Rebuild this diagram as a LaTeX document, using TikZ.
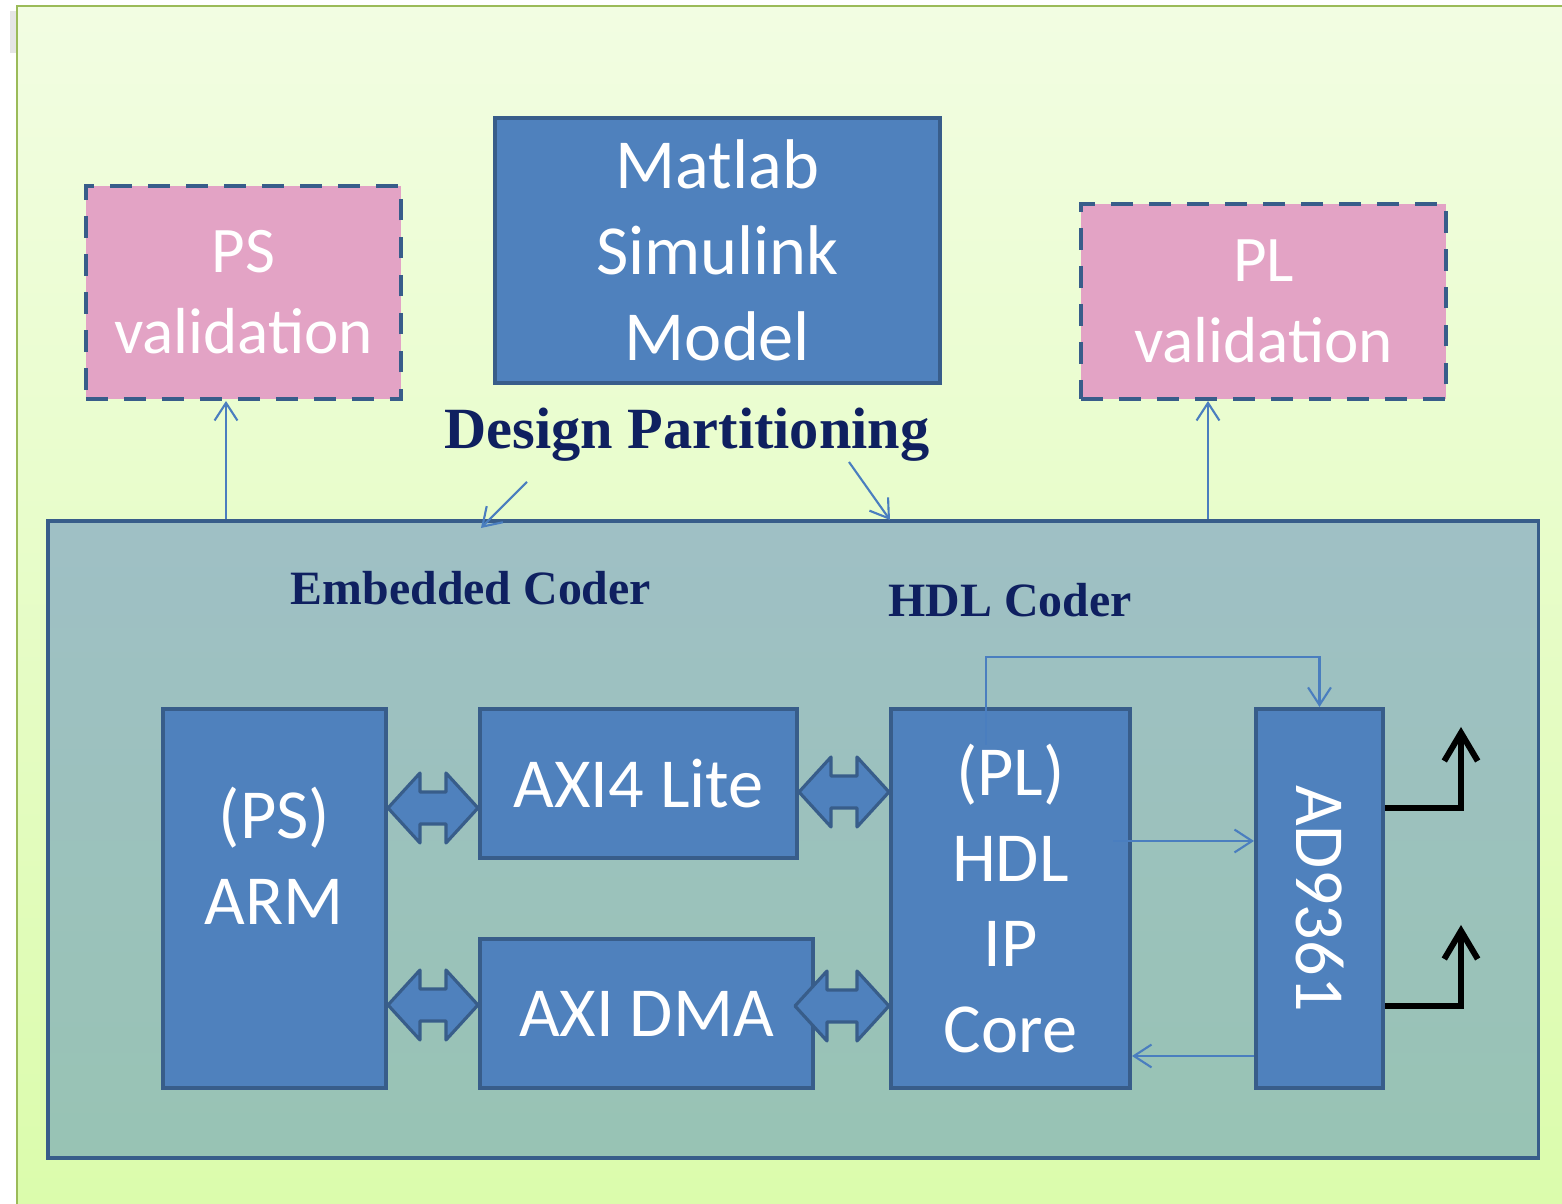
\documentclass[tikz,border=0pt]{standalone}
\usepackage{fontspec}
\usepackage{graphicx}
\setmainfont{Liberation Serif}
\newfontfamily\boxfont{Carlito}
\usetikzlibrary{arrows.meta,calc}

\definecolor{boxblue}{RGB}{79,129,189}
\definecolor{edgeblue}{RGB}{56,93,138}
\definecolor{pinkfill}{RGB}{227,163,197}
\definecolor{labelnavy}{RGB}{15,32,96}
\definecolor{bgtop}{RGB}{242,253,226}
\definecolor{bgbot}{RGB}{219,252,172}
\definecolor{framegreen}{RGB}{155,187,89}
\definecolor{zynqtop}{RGB}{159,192,197}
\definecolor{zynqbot}{RGB}{152,195,180}
\definecolor{linkblue}{RGB}{74,126,191}

\tikzset{
  block/.style={draw=edgeblue, fill=boxblue, line width=1.1pt, text=white,
    align=center, inner sep=0pt, font=\boxfont\fontsize{20}{24.4}\selectfont},
  valbox/.style={draw=edgeblue, fill=pinkfill, line width=1.1pt,
    dash pattern=on 6.2pt off 4.6pt, text=white, align=center, inner sep=0pt,
    font=\boxfont\fontsize{18.5}{23}\selectfont},
  link/.style={linkblue, line width=0.6pt, -{Straight Barb[length=5pt,width=6.5pt]}},
  blockarr/.style={draw=edgeblue, fill=boxblue, line width=0.9pt, line join=round},
  antenna/.style={black, line width=1.7pt, -{Straight Barb[length=8pt,width=9.5pt]}},
  coderlabel/.style={text=labelnavy, font=\bfseries\fontsize{13.6}{16}\selectfont}
}

% double block arrow between two tips
\newcommand{\dblarrow}[2]{%
  \filldraw[blockarr] (#1) -- ++(32,-35) -- ++(0,19) -- ($(#2)+(-32,-16)$)
    -- ++(0,-19) -- (#2) -- ++(-32,35) -- ++(0,-19) -- ($(#1)+(32,16)$)
    -- ++(0,19) -- cycle;}

\begin{document}
\begin{tikzpicture}[x=0.01cm,y=-0.01cm]
    \useasboundingbox (0,0) rectangle (1562,1204);
    % slide background
    \fill[black!10] (10,11) rectangle (17,53);
    \shade[top color=bgtop, bottom color=bgbot] (17,6) rectangle (1562,1204);
    \draw[framegreen, line width=0.7pt] (17,1204) -- (17,6) -- (1562,6);

    % top row
    \node[block, minimum width=4.45cm, minimum height=2.65cm] (matlab) at (717.5,250.5) {Matlab\\Simulink\\Model};
    \node[valbox, minimum width=3.15cm, minimum height=2.13cm] (psval) at (243.5,292.5) {PS\\validation};
    \node[valbox, minimum width=3.65cm, minimum height=1.95cm] (plval) at (1263.5,301.5) {PL\\validation};
    \node[text=labelnavy, font=\bfseries\fontsize{16.6}{20}\selectfont] (dp) at (687,435) {Design Partitioning};

    % zynq board
    \node[draw=edgeblue, line width=1.1pt, top color=zynqtop, bottom color=zynqbot,
      minimum width=14.9cm, minimum height=6.37cm, inner sep=0pt] (zynq) at (793,839.5) {};
    \node[coderlabel] (embcoder) at (471,588) {Embedded Coder};
    \node[coderlabel] (hdlcoder) at (1010,600) {HDL Coder};

    \node[block, minimum width=2.23cm, minimum height=3.79cm] (arm) at (274.5,898.5) {(PS)\\ARM\\\mbox{}};
    \node[block, minimum width=3.17cm, minimum height=1.49cm] (axilite) at (638.5,783.5) {AXI4 Lite};
    \node[block, minimum width=3.33cm, minimum height=1.49cm] (axidma) at (646.5,1013.5) {AXI DMA};
    \node[block, minimum width=2.39cm, minimum height=3.79cm] (hdlip) at (1010.5,898.5) {(PL)\\HDL\\IP\\Core};
    \node[block, minimum width=1.27cm, minimum height=3.79cm] (ad) at (1319.5,898.5) {\rotatebox{-90}{AD9361}};

    % bus arrows
    \dblarrow{arm.east |- 0,808}{axilite.west |- 0,808}
    \dblarrow{arm.east |- 0,1005}{axidma.west |- 0,1005}
    \dblarrow{axilite.east |- 0,792}{hdlip.west |- 0,792}
    \coordinate (dmatip) at (795,1006);
    \dblarrow{dmatip}{hdlip.west |- 0,1006}

    % thin links
    \draw[link] (zynq.north -| 226,0) -- (psval.south -| 226,0);
    \draw[link] (zynq.north -| 1208,0) -- (plval.south -| 1208,0);
    \coordinate (dpl) at (527,482);
    \coordinate (dpl end) at (481,528);
    \coordinate (dpr) at (849,462);
    \coordinate (dpr end) at (890,520);
    \draw[link] (dpl) -- (dpl end);
    \draw[link] (dpr) -- (dpr end);
    \coordinate (loopstart) at (986,745);
    \draw[link] (loopstart) |- ($(ad.north)+(0,-50)$) -- (ad.north);
    \coordinate (txstart) at (1113,841);
    \draw[link] (txstart) -- (ad.west |- txstart);
    \draw[link] (ad.west |- 0,1056) -- (hdlip.east |- 0,1056);

    % antennas
    \coordinate (ant1) at (1461,727);
    \coordinate (ant2) at (1461,925);
    \draw[antenna] (ad.east |- 0,808) -| (ant1);
    \draw[antenna] (ad.east |- 0,1006) -| (ant2);
\end{tikzpicture}
\end{document}
